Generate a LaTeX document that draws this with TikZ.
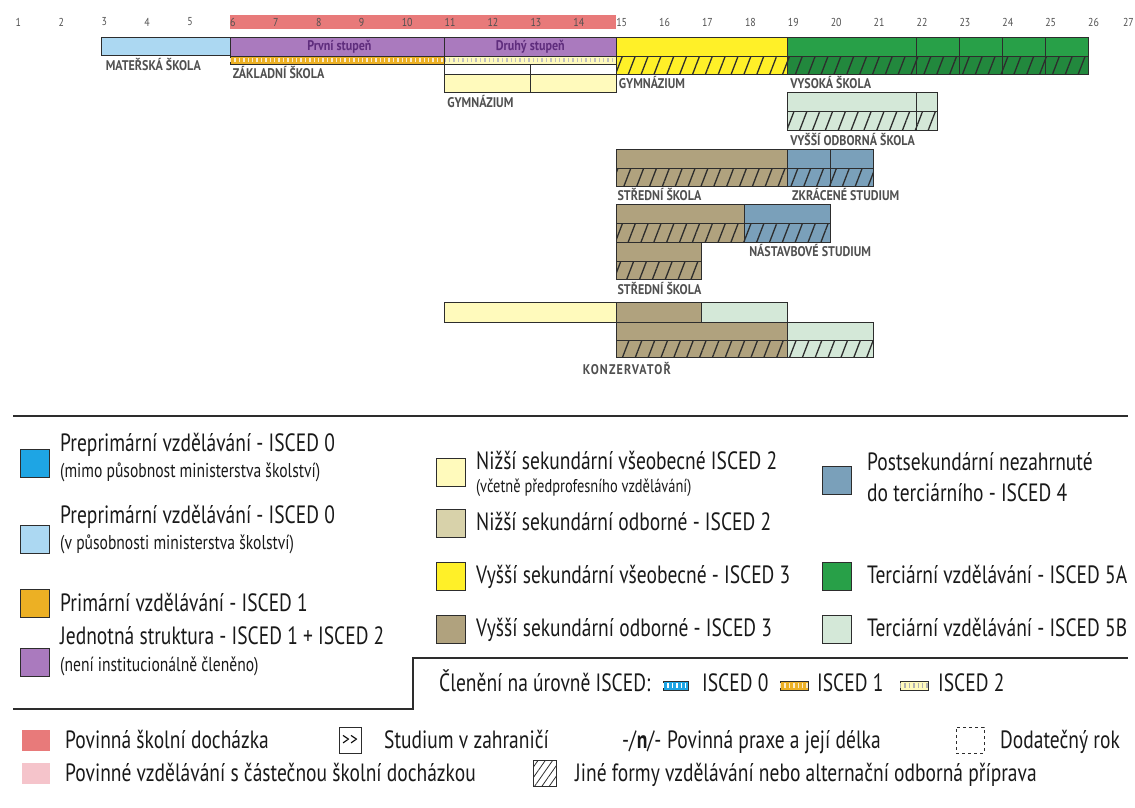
\documentclass[tikz,border=0pt]{standalone}
\usepackage{fontspec}
\setmainfont{PT Sans}[FakeStretch=0.86]
\newfontfamily\legendfont{PT Sans}[FakeStretch=0.78]
\usetikzlibrary{patterns.meta}

\definecolor{povinna}{RGB}{232,122,122}
\definecolor{castecna}{RGB}{245,196,203}
\definecolor{predmimo}{RGB}{30,165,228}
\definecolor{predmin}{RGB}{172,216,242}
\definecolor{primar}{RGB}{236,176,36}
\definecolor{jednotna}{RGB}{170,122,190}
\definecolor{nizsivseob}{RGB}{255,250,188}
\definecolor{nizsiodb}{RGB}{216,210,170}
\definecolor{vyssivseob}{RGB}{255,240,40}
\definecolor{vyssiodb}{RGB}{176,162,126}
\definecolor{postsek}{RGB}{122,160,186}
\definecolor{terca}{RGB}{40,160,72}
\definecolor{tercb}{RGB}{212,232,216}
\definecolor{linka}{RGB}{45,45,45}
\definecolor{popis}{RGB}{80,80,80}
\definecolor{stupen}{RGB}{95,45,125}

\tikzset{
  bar/.style={fill=#1, draw=linka, line width=1pt},
  hatchbar/.style={draw=linka, line width=1pt, preaction={fill=#1},
    pattern={Lines[angle=69,distance=12pt,line width=1.3pt]}, pattern color=linka},
  sep/.style={draw=linka, line width=1pt},
  tickline/.style={line width=4pt, dash pattern=on 1.4pt off 3pt},
  year/.style={anchor=west, inner sep=0pt, text=popis, font=\fontsize{11.5}{11.5}\selectfont},
  school/.style={anchor=west, inner sep=0pt, text=popis, font=\bfseries\fontsize{14}{14}\selectfont},
  stupentext/.style={inner sep=0pt, text=stupen, font=\bfseries\fontsize{14}{14}\selectfont},
  legbox/.style={draw=linka, line width=0.9pt, fill=#1, minimum width=29pt, minimum height=28pt, inner sep=0pt},
  legtext/.style={anchor=base west, inner sep=0pt, text=black!90, font=\legendfont\fontsize{25}{25}\selectfont},
  legsub/.style={anchor=base west, inner sep=0pt, text=black!90, font=\legendfont\fontsize{20}{20}\selectfont}
}

\begin{document}
\begin{tikzpicture}[x=1pt, y=-1pt]
\useasboundingbox (0,0) rectangle (1135,807);

\begin{scope}[x=42.9pt, xshift=-27.4pt]
  % povinna skolni dochazka a roky
  \fill[povinna] (6,15) rectangle (15,29);
  \foreach \r in {1,...,26}
    \node[year] (rok\r) at (\r,22) {\r};

  % materska a zakladni skola
  \draw[bar=predmin] (3,37) rectangle (6,55);
  \draw[bar=jednotna] (6,37) rectangle (11,56);
  \draw[bar=jednotna] (11,37) rectangle (15,56);
  \node[stupentext] (prvni) at (8.55,46.5) {První stupeň};
  \node[stupentext] (druhy) at (13,46.5) {Druhý stupeň};
  \draw[bar=primar] (6,56) rectangle (11,64);
  \draw[tickline, primar!25] (6,60) -- (11,60);
  \draw[bar=nizsivseob] (11,56) rectangle (15,64);
  \draw[tickline, black!25] (11,60) -- (15,60);

  % viceleta gymnazia
  \draw[bar=white] (11,64) rectangle (15,74);
  \draw[bar=nizsivseob] (11,74) rectangle (15,92);
  \draw[sep] (13,64) -- (13,92);
  \draw[bar=vyssivseob] (15,37) rectangle (19,56);
  \draw[hatchbar=vyssivseob] (15,56) rectangle (19,74);

  % vysoka skola
  \draw[bar=terca] (19,37) rectangle (26,56);
  \draw[hatchbar=terca!85!black] (19,56) rectangle (26,74);
  \foreach \r in {22,...,25}
    \draw[sep] (\r,37) -- (\r,74);

  % vyssi odborna skola
  \draw[bar=tercb] (19,92) rectangle (22.5,111);
  \draw[hatchbar=tercb] (19,111) rectangle (22.5,130);
  \draw[sep] (22,92) -- (22,130);

  % stredni skoly
  \draw[bar=vyssiodb] (15,149) rectangle (19,168);
  \draw[hatchbar=vyssiodb] (15,168) rectangle (19,186);
  \draw[bar=postsek] (19,149) rectangle (21,168);
  \draw[hatchbar=postsek] (19,168) rectangle (21,186);
  \draw[sep] (20,149) -- (20,186);

  \draw[bar=vyssiodb] (15,204) rectangle (18,223);
  \draw[hatchbar=vyssiodb] (15,223) rectangle (18,242);
  \draw[bar=postsek] (18,204) rectangle (20,223);
  \draw[hatchbar=postsek] (18,223) rectangle (20,242);

  \draw[bar=vyssiodb] (15,242) rectangle (17,261);
  \draw[hatchbar=vyssiodb] (15,261) rectangle (17,279);

  % konzervator
  \draw[bar=nizsivseob] (11,302) rectangle (15,322);
  \draw[bar=vyssiodb] (15,302) rectangle (17,322);
  \draw[bar=tercb] (17,302) rectangle (19,322);
  \draw[bar=vyssiodb] (15,322) rectangle (19,340);
  \draw[hatchbar=vyssiodb] (15,340) rectangle (19,357);
  \draw[bar=tercb] (19,322) rectangle (21,340);
  \draw[hatchbar=tercb] (19,340) rectangle (21,357);

  % nazvy skol
  \node[school] (materska) at (3.1,65) {MATEŘSKÁ ŠKOLA};
  \node[school] (zakladni) at (6.06,73) {ZÁKLADNÍ ŠKOLA};
  \node[school] (gymnazium8) at (11.06,102) {GYMNÁZIUM};
  \node[school] (gymnazium) at (15.06,83) {GYMNÁZIUM};
  \node[school] (vysoka) at (19.06,83) {VYSOKÁ ŠKOLA};
  \node[school] (vos) at (19.06,140) {VYŠŠÍ ODBORNÁ ŠKOLA};
  \node[school] (stredni1) at (15.03,195) {STŘEDNÍ ŠKOLA};
  \node[school] (zkracene) at (19.1,195) {ZKRÁCENÉ STUDIUM};
  \node[school] (nastavbove) at (18.1,250) {NÁSTAVBOVÉ STUDIUM};
  \node[school] (stredni2) at (15.03,288) {STŘEDNÍ ŠKOLA};
  \node[school, anchor=center, font=\bfseries\fontsize{14}{14}\selectfont\addfontfeature{LetterSpace=8}] (konzervator) at (15.25,368) {KONZERVATOŘ};
\end{scope}
\node[year, anchor=east] (rok27) at (1134,22) {27};

% legenda
\draw[linka, line width=1.2pt] (13,416) -- (1128,416);
\draw[linka, line width=1.2pt] (13,709) -- (413,709) -- (413,658) -- (1128,658);

\node[legbox=predmimo] (bPredmimo) at (34.5,463.5) {};
\node[legtext] (tPredmimo) at (60,451) {Preprimární vzdělávání - ISCED 0};
\node[legsub] (sPredmimo) at (60,477) {(mimo působnost ministerstva školství)};
\node[legbox=predmin] (bPredmin) at (34.5,539) {};
\node[legtext] (tPredmin) at (60,523) {Preprimární vzdělávání - ISCED 0};
\node[legsub] (sPredmin) at (60,549) {(v působnosti ministerstva školství)};
\node[legbox=primar] (bPrimar) at (34.5,603.5) {};
\node[legtext] (tPrimar) at (60,611) {Primární vzdělávání - ISCED 1};
\node[legbox=jednotna] (bJednotna) at (34.5,662.5) {};
\node[legtext] (tJednotna) at (60,644) {Jednotná struktura - ISCED 1 + ISCED 2};
\node[legsub] (sJednotna) at (60,671) {(není institucionálně členěno)};

\node[legbox=nizsivseob] (bNizsiVseob) at (451,472) {};
\node[legtext] (tNizsiVseob) at (476,469) {Nižší sekundární všeobecné ISCED 2};
\node[legsub, font=\legendfont\fontsize{18.5}{18.5}\selectfont] (sNizsiVseob) at (476,492) {(včetně předprofesního vzdělávání)};
\node[legbox=nizsiodb] (bNizsiOdb) at (451,523.5) {};
\node[legtext] (tNizsiOdb) at (476,530) {Nižší sekundární odborné - ISCED 2};
\node[legbox=vyssivseob] (bVyssiVseob) at (451,576) {};
\node[legtext] (tVyssiVseob) at (476,583) {Vyšší sekundární všeobecné - ISCED 3};
\node[legbox=vyssiodb] (bVyssiOdb) at (451,629) {};
\node[legtext] (tVyssiOdb) at (476,636) {Vyšší sekundární odborné - ISCED 3};

\node[legbox=postsek] (bPostsek) at (837,480) {};
\node[legtext] (tPostsek) at (867,470) {Postsekundární nezahrnuté};
\node[legtext] (sPostsek) at (867,501) {do terciárního - ISCED 4};
\node[legbox=terca] (bTercA) at (837,576) {};
\node[legtext] (tTercA) at (867,583) {Terciární vzdělávání - ISCED 5A};
\node[legbox=tercb] (bTercB) at (837,629) {};
\node[legtext] (tTercB) at (867,636) {Terciární vzdělávání - ISCED 5B};

% cleneni na urovne ISCED
\node[legtext] (tCleneni) at (439,691) {Členění na úrovně ISCED:};
\draw[bar=predmimo] (663,681) rectangle (688,690);
\draw[tickline, white, line width=4.5pt] (663,685.5) -- (688,685.5);
\node[legtext] (tIsced0) at (702,691) {ISCED 0};
\draw[bar=primar] (780,681) rectangle (808,690);
\draw[tickline, primar!25, line width=4.5pt] (780,685.5) -- (808,685.5);
\node[legtext] (tIsced1) at (817,691) {ISCED 1};
\draw[bar=nizsivseob] (900,681) rectangle (928,690);
\draw[tickline, black!30, line width=4.5pt] (900,685.5) -- (928,685.5);
\node[legtext] (tIsced2) at (938,691) {ISCED 2};

% dalsi znacky
\node[fill=povinna, minimum width=28pt, minimum height=21pt, inner sep=0pt] (bPovinna) at (35.5,740) {};
\node[legtext] (tPovinna) at (65,748) {Povinná školní docházka};
\node[draw=linka, line width=0.9pt, minimum width=22pt, minimum height=26pt, inner sep=0pt, font=\fontsize{18}{18}\selectfont] (bZahranici) at (350,740) {>{}>};
\node[legtext] (tZahranici) at (384,748) {Studium v zahraničí};
\node[legtext] (zPraxe) at (622,748) {-/\textbf{n}/-};
\node[legtext] (tPraxe) at (667,748) {Povinná praxe a její délka};
\node[draw=linka, line width=0.9pt, dashed, minimum width=28pt, minimum height=26pt, inner sep=0pt] (bDodatecny) at (970,740) {};
\node[legtext] (tDodatecny) at (1000,748) {Dodatečný rok};

\node[fill=castecna, minimum width=28pt, minimum height=21pt, inner sep=0pt] (bCastecna) at (35.5,773) {};
\node[legtext] (tCastecna) at (65,781) {Povinné vzdělávání s částečnou školní docházkou};
\node[draw=linka, line width=0.9pt, minimum width=23pt, minimum height=26pt, inner sep=0pt,
  pattern={Lines[angle=55,distance=6pt,line width=0.8pt]}, pattern color=linka] (bJine) at (545,773) {};
\node[legtext] (tJine) at (575,781) {Jiné formy vzdělávání nebo alternační odborná příprava};
\end{tikzpicture}
\end{document}
